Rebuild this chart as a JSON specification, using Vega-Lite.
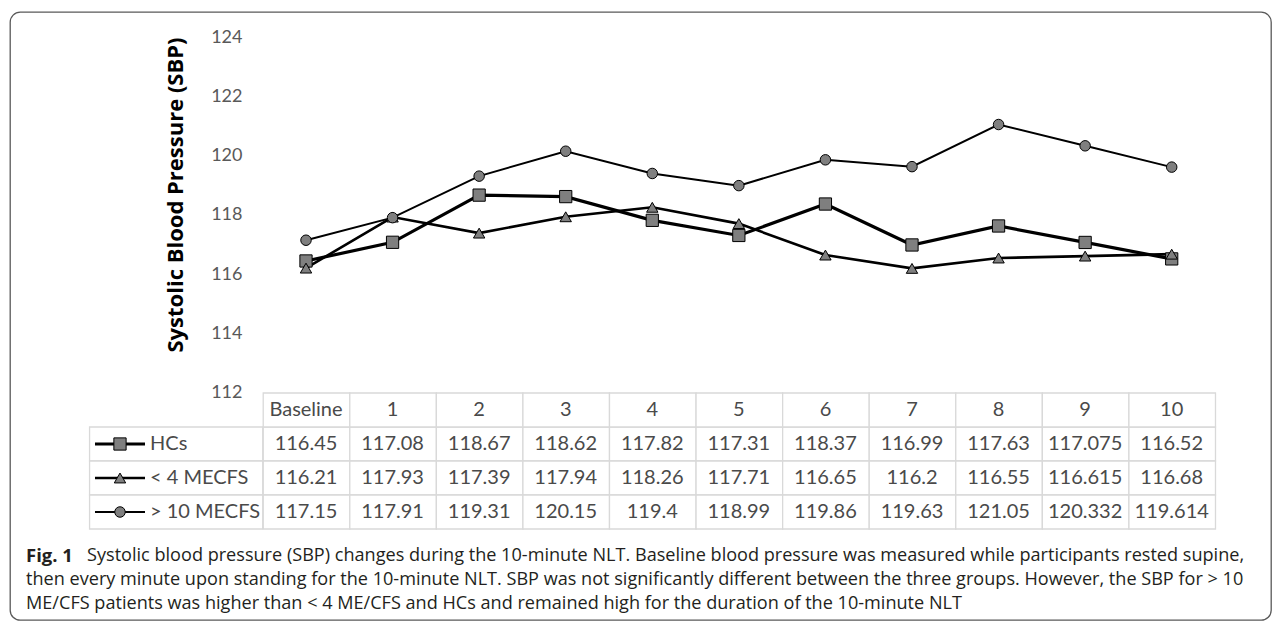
{
  "$schema": "https://vega.github.io/schema/vega-lite/v6.json",
  "autosize": "none",
  "width": 1261,
  "height": 608,
  "padding": {"left": 10, "top": 12, "right": 10, "bottom": 4},
  "background": "white",
  "config": {
    "view": {"stroke": "#595959", "strokeWidth": 1.3, "cornerRadius": 10},
    "text": {"font": "Lato"}
  },
  "datasets": {
    "sbp": [
      {"time": "Baseline", "step": 0, "group": "HCs", "sbp": 116.45},
      {"time": "1", "step": 1, "group": "HCs", "sbp": 117.08},
      {"time": "2", "step": 2, "group": "HCs", "sbp": 118.67},
      {"time": "3", "step": 3, "group": "HCs", "sbp": 118.62},
      {"time": "4", "step": 4, "group": "HCs", "sbp": 117.82},
      {"time": "5", "step": 5, "group": "HCs", "sbp": 117.31},
      {"time": "6", "step": 6, "group": "HCs", "sbp": 118.37},
      {"time": "7", "step": 7, "group": "HCs", "sbp": 116.99},
      {"time": "8", "step": 8, "group": "HCs", "sbp": 117.63},
      {"time": "9", "step": 9, "group": "HCs", "sbp": 117.075},
      {"time": "10", "step": 10, "group": "HCs", "sbp": 116.52},
      {"time": "Baseline", "step": 0, "group": "< 4 MECFS", "sbp": 116.21},
      {"time": "1", "step": 1, "group": "< 4 MECFS", "sbp": 117.93},
      {"time": "2", "step": 2, "group": "< 4 MECFS", "sbp": 117.39},
      {"time": "3", "step": 3, "group": "< 4 MECFS", "sbp": 117.94},
      {"time": "4", "step": 4, "group": "< 4 MECFS", "sbp": 118.26},
      {"time": "5", "step": 5, "group": "< 4 MECFS", "sbp": 117.71},
      {"time": "6", "step": 6, "group": "< 4 MECFS", "sbp": 116.65},
      {"time": "7", "step": 7, "group": "< 4 MECFS", "sbp": 116.2},
      {"time": "8", "step": 8, "group": "< 4 MECFS", "sbp": 116.55},
      {"time": "9", "step": 9, "group": "< 4 MECFS", "sbp": 116.615},
      {"time": "10", "step": 10, "group": "< 4 MECFS", "sbp": 116.68},
      {"time": "Baseline", "step": 0, "group": "> 10 MECFS", "sbp": 117.15},
      {"time": "1", "step": 1, "group": "> 10 MECFS", "sbp": 117.91},
      {"time": "2", "step": 2, "group": "> 10 MECFS", "sbp": 119.31},
      {"time": "3", "step": 3, "group": "> 10 MECFS", "sbp": 120.15},
      {"time": "4", "step": 4, "group": "> 10 MECFS", "sbp": 119.4},
      {"time": "5", "step": 5, "group": "> 10 MECFS", "sbp": 118.99},
      {"time": "6", "step": 6, "group": "> 10 MECFS", "sbp": 119.86},
      {"time": "7", "step": 7, "group": "> 10 MECFS", "sbp": 119.63},
      {"time": "8", "step": 8, "group": "> 10 MECFS", "sbp": 121.05},
      {"time": "9", "step": 9, "group": "> 10 MECFS", "sbp": 120.332},
      {"time": "10", "step": 10, "group": "> 10 MECFS", "sbp": 119.614}
    ],
    "caption": [
      {"line": 1, "lead": "Fig. 1", "text": "Systolic blood pressure (SBP) changes during the 10-minute NLT. Baseline blood pressure was measured while participants rested supine,"},
      {"line": 2, "lead": "", "text": "then every minute upon standing for the 10-minute NLT. SBP was not significantly different between the three groups. However, the SBP for > 10"},
      {"line": 3, "lead": "", "text": "ME/CFS patients was higher than < 4 ME/CFS and HCs and remained high for the duration of the 10-minute NLT"}
    ]
  },
  "resolve": {"scale": {"y": "independent"}},
  "layer": [
    {
      "data": {"name": "sbp"},
      "encoding": {
        "x": {"field": "step", "type": "quantitative", "scale": {"domain": [-3.4192, 11.147], "nice": false, "zero": false}, "axis": null},
        "y": {
          "field": "sbp", "type": "quantitative",
          "scale": {"domain": [104.3483, 124.8427], "nice": false, "zero": false},
          "axis": {
            "values": [112, 114, 116, 118, 120, 122, 124],
            "grid": false, "domain": false, "ticks": false, "tickSize": 0,
            "offset": -253,
            "labelFont": "Lato", "labelFontSize": 18, "labelColor": "#595959", "labelPadding": 21,
            "title": "Systolic Blood Pressure  (SBP)",
            "titleFont": "Open Sans", "titleFontWeight": "bold", "titleFontSize": 22, "titleColor": "black",
            "titleX": -88, "titleY": 182.5, "titleAngle": -90, "titleAlign": "center", "titleBaseline": "middle"
          }
        }
      },
      "layer": [
        {
          "mark": {"type": "line", "color": "black"},
          "encoding": {
            "detail": {"field": "group", "type": "nominal"},
            "strokeWidth": {"field": "group", "type": "nominal", "scale": {"domain": ["HCs", "< 4 MECFS", "> 10 MECFS"], "range": [3.2, 2, 2]}, "legend": null}
          }
        },
        {
          "mark": {"type": "point", "filled": true, "fill": "#7f7f7f", "stroke": "black", "strokeWidth": 1, "opacity": 1},
          "encoding": {
            "shape": {"field": "group", "type": "nominal", "scale": {"domain": ["HCs", "< 4 MECFS", "> 10 MECFS"], "range": ["square", "triangle-up", "circle"]}, "legend": null},
            "size": {"field": "group", "type": "nominal", "scale": {"domain": ["HCs", "< 4 MECFS", "> 10 MECFS"], "range": [150, 110, 140]}, "legend": null}
          }
        }
      ]
    },
    {
      "data": {"name": "sbp"},
      "encoding": {
        "y": {"field": "group", "type": "nominal", "scale": {"type": "band", "domain": ["Minute", "HCs", "< 4 MECFS", "> 10 MECFS"], "paddingInner": 0, "paddingOuter": 0, "range": [381, 517]}, "axis": null}
      },
      "layer": [
        {
          "mark": {"type": "rect", "fill": "white", "stroke": "#d9d9d9", "strokeWidth": 1.3},
          "encoding": {
            "x": {"field": "step", "type": "quantitative", "bin": {"step": 1, "anchor": 0.5, "extent": [-0.5, 10.5], "nice": false}}
          }
        },
        {
          "transform": [{"filter": "datum.group === 'HCs'"}],
          "mark": {"type": "rect", "fill": "white", "stroke": "#d9d9d9", "strokeWidth": 1.3},
          "encoding": {
            "x": {"field": "step", "type": "quantitative", "bin": {"step": 1, "anchor": 0.5, "extent": [-0.5, 10.5], "nice": false}},
            "y": {"datum": "Minute", "type": "nominal"}
          }
        },
        {
          "transform": [{"filter": "datum.step === 0"}],
          "mark": {"type": "rect", "fill": "white", "stroke": "#d9d9d9", "strokeWidth": 1.3},
          "encoding": {
            "x": {"datum": -2.5},
            "x2": {"datum": -0.5}
          }
        },
        {
          "transform": [{"filter": "datum.group === 'HCs'"}],
          "mark": {"type": "text", "fontSize": 20, "color": "#4a4a4a", "baseline": "middle"},
          "encoding": {
            "x": {"field": "step", "type": "quantitative"},
            "y": {"datum": "Minute", "type": "nominal"},
            "text": {"field": "time", "type": "nominal"}
          }
        },
        {
          "mark": {"type": "text", "fontSize": 20, "color": "#4a4a4a", "baseline": "middle"},
          "encoding": {
            "x": {"field": "step", "type": "quantitative"},
            "text": {"field": "sbp", "type": "nominal"}
          }
        },
        {
          "transform": [{"filter": "datum.step === 0"}],
          "mark": {"type": "rule", "color": "black"},
          "encoding": {
            "x": {"datum": -2.4374},
            "x2": {"datum": -1.8598},
            "strokeWidth": {"field": "group", "type": "nominal", "legend": null}
          }
        },
        {
          "transform": [{"filter": "datum.step === 0"}],
          "mark": {"type": "point", "filled": true, "fill": "#7f7f7f", "stroke": "black", "strokeWidth": 1, "opacity": 1},
          "encoding": {
            "x": {"datum": -2.1486},
            "shape": {"field": "group", "type": "nominal", "legend": null},
            "size": {"field": "group", "type": "nominal", "legend": null}
          }
        },
        {
          "transform": [{"filter": "datum.step === 0"}],
          "mark": {"type": "text", "fontSize": 20, "color": "#4a4a4a", "align": "left", "baseline": "middle"},
          "encoding": {
            "x": {"datum": -1.802},
            "text": {"field": "group", "type": "nominal"}
          }
        }
      ]
    },
    {
      "data": {"name": "caption"},
      "encoding": {
        "y": {"field": "line", "type": "quantitative", "scale": {"domain": [-21.6667, 3.6667], "reverse": true, "nice": false, "zero": false}, "axis": null},
        "x": {"datum": -3.234}
      },
      "layer": [
        {
          "mark": {"type": "text", "align": "left", "baseline": "middle", "font": "Open Sans", "fontWeight": "bold", "fontSize": 18.5, "color": "#231f20"},
          "encoding": {"text": {"field": "lead", "type": "nominal"}}
        },
        {
          "transform": [{"filter": "datum.line === 1"}],
          "mark": {"type": "text", "align": "left", "baseline": "middle", "font": "Open Sans", "fontSize": 18.1, "color": "#231f20", "dx": 61},
          "encoding": {"text": {"field": "text", "type": "nominal"}}
        },
        {
          "transform": [{"filter": "datum.line > 1"}],
          "mark": {"type": "text", "align": "left", "baseline": "middle", "font": "Open Sans", "fontSize": 18.1, "color": "#231f20"},
          "encoding": {"text": {"field": "text", "type": "nominal"}}
        }
      ]
    }
  ]
}
